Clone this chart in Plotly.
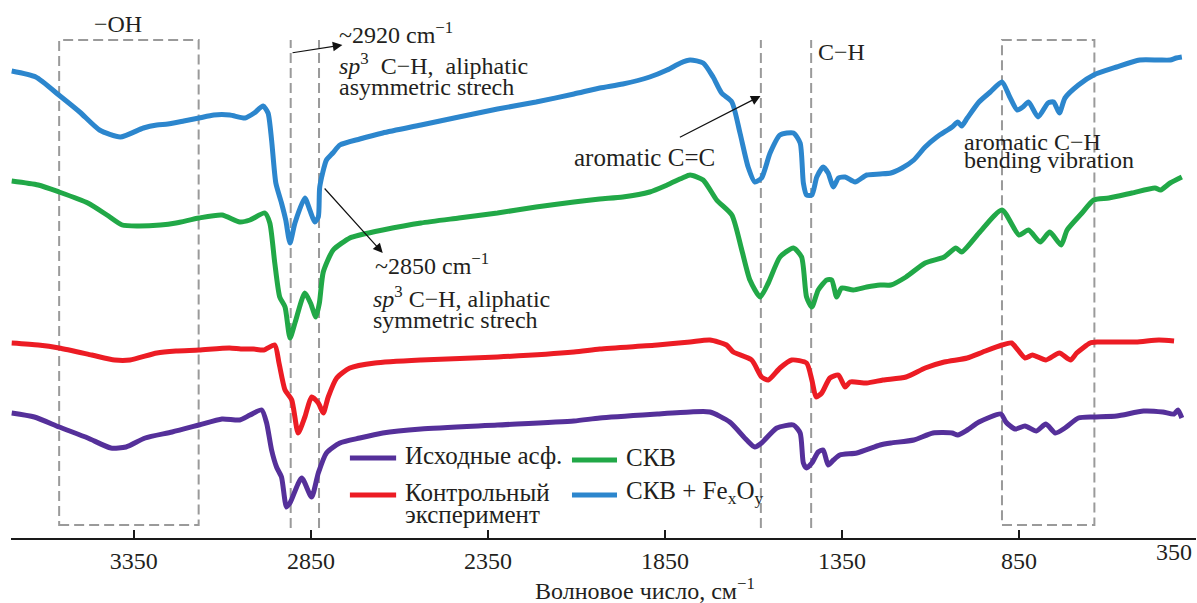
import plotly.graph_objects as go

# --- FTIR spectra (wavenumber, cm-1 ; transmittance, arbitrary units, offset per sample) ---
wn_blue = [3695, 3627, 3562, 3503, 3447, 3388, 3323, 3285, 3254, 3209, 3166, 3124, 3079, 3036,
           3010, 2985, 2971, 2961, 2949, 2933, 2921, 2909, 2895, 2867, 2853, 2839, 2829, 2825,
           2806, 2788, 2768, 2712, 2647, 2539, 2432, 2323, 2214, 2107, 2034, 1969, 1893, 1844,
           1806, 1779, 1742, 1714, 1690, 1661, 1638, 1615, 1596, 1577, 1553, 1525, 1487, 1468,
           1459, 1450, 1435, 1421, 1403, 1389, 1374, 1360, 1341, 1313, 1280, 1242, 1212, 1180,
           1147, 1115, 1082, 1039, 1023, 1012, 996, 963, 931, 898, 876, 855, 839, 823, 796, 768,
           752, 736, 720, 682, 639, 574, 509, 455, 423, 406, 390]
t_blue = [467, 461, 443, 426, 408, 401, 410, 413, 414, 417, 420, 423, 423, 420,
          425, 432, 425, 398, 355, 335, 318, 295, 315, 340, 328, 316, 321, 351,
          378, 385, 393, 399, 405, 413, 421, 429, 436, 444, 450, 454, 461, 468,
          475, 478, 475, 461, 445, 436, 405, 371, 356, 360, 385, 403, 405, 395,
          355, 343, 343, 361, 371, 365, 351, 360, 361, 356, 363, 364, 365, 370,
          378, 391, 401, 411, 416, 412, 420, 436, 446, 456, 441, 428, 431, 436, 421, 435,
          436, 425, 440, 453, 463, 471, 478, 478, 478, 480, 481]

wn_green = [3695, 3620, 3561, 3480, 3426, 3383, 3339, 3275, 3231, 3166, 3101, 3051, 3022, 2980,
            2966, 2952, 2938, 2923, 2909, 2895, 2867, 2851, 2836, 2826, 2815, 2787, 2740, 2712,
            2647, 2539, 2432, 2323, 2214, 2107, 2034, 1969, 1893, 1844, 1801, 1779, 1742, 1704,
            1661, 1633, 1610, 1581, 1558, 1525, 1487, 1464, 1450, 1435, 1417, 1393, 1379, 1365,
            1351, 1318, 1280, 1242, 1212, 1169, 1115, 1061, 1028, 1012, 963, 898, 850, 823, 790,
            763, 731, 714, 672, 639, 596, 531, 466, 450, 423, 390]
t_green = [357, 353, 346, 335, 323, 313, 312, 313, 315, 320, 323, 316, 318, 325,
           315, 275, 241, 231, 200, 215, 245, 235, 221, 235, 266, 288, 300, 303,
           308, 315, 320, 325, 331, 336, 339, 341, 346, 353, 360, 363, 358, 338,
           323, 288, 258, 241, 255, 281, 290, 281, 241, 231, 248, 258, 258, 241,
           250, 248, 251, 253, 253, 261, 275, 281, 290, 286, 305, 328, 303, 308, 296,
           306, 293, 308, 325, 338, 340, 345, 350, 348, 355, 361]

wn_red = [3695, 3620, 3561, 3469, 3404, 3361, 3285, 3231, 3166, 3080, 3048, 3013, 2983, 2952,
          2940, 2923, 2904, 2886, 2867, 2848, 2829, 2815, 2801, 2777, 2740, 2669, 2539, 2323,
          2107, 2034, 1871, 1779, 1723, 1676, 1657, 1605, 1577, 1558, 1525, 1492, 1450, 1435,
          1423, 1407, 1384, 1360, 1341, 1327, 1280, 1234, 1169, 1115, 1061, 996, 952, 898, 871,
          833, 812, 774, 736, 704, 687, 649, 628, 520, 455, 412]
t_red = [195, 193, 190, 183, 178, 178, 185, 187, 188, 190, 189, 189, 188, 193,
         175, 148, 138, 105, 121, 141, 135, 125, 141, 160, 170, 175, 178, 181,
         186, 189, 193, 196, 198, 193, 186, 178, 161, 158, 170, 178, 175, 158,
         141, 145, 160, 163, 151, 156, 155, 158, 161, 170, 176, 180, 186, 193, 195,
         180, 183, 178, 185, 178, 185, 195, 196, 196, 198, 197]

wn_purple = [3695, 3631, 3561, 3480, 3415, 3372, 3318, 3242, 3166, 3101, 3051, 3022, 2989, 2975,
             2961, 2947, 2933, 2919, 2909, 2876, 2848, 2829, 2806, 2768, 2712, 2647, 2539, 2323,
             2107, 2034, 1871, 1779, 1723, 1667, 1619, 1596, 1577, 1534, 1487, 1468, 1459, 1450,
             1435, 1417, 1403, 1389, 1374, 1356, 1308, 1242, 1212, 1147, 1093, 1039, 1023, 996,
             963, 901, 887, 861, 833, 801, 774, 747, 720, 682, 639, 574, 498, 444, 412, 401, 390]
t_purple = [125, 121, 111, 100, 90, 91, 100, 106, 113, 119, 118, 123, 128, 115,
            88, 71, 61, 31, 35, 60, 41, 65, 85, 95, 100, 105, 109, 113,
            117, 120, 124, 126, 126, 116, 98, 91, 95, 110, 113, 105, 75, 70,
            75, 86, 88, 73, 78, 83, 85, 93, 95, 98, 105, 105, 103, 108,
            116, 124, 116, 109, 112, 107, 114, 105, 110, 120, 121, 122, 127, 126, 124, 128, 120]

series_colors = {"purple": "#55309a", "red": "#ec1c24", "green": "#21a847", "blue": "#2c86cd"}

tick_vals = [3350, 2850, 2350, 1850, 1350, 850, 350]
tick_text = ["3350", "2850", "2350", "1850", "1350", "850", ""]

# marked bands (cm-1)
oh_band = (3561, 3167)
arom_bend_band = (898, 637)
band_lines = [2907, 2827, 1579, 1437]

FONT = "'Liberation Serif', 'DejaVu Serif', serif"
TXT = "#231f20"
GRID = "#9a9a9a"

fig = go.Figure()
for wn, t, c in [(wn_purple, t_purple, "purple"), (wn_red, t_red, "red"),
                 (wn_green, t_green, "green"), (wn_blue, t_blue, "blue")]:
    fig.add_trace(go.Scatter(x=wn, y=t, mode="lines", showlegend=False,
                             line=dict(color=series_colors[c], width=5, shape="spline", smoothing=0.6)))

dash = dict(color=GRID, width=2, dash="10px,5px")
for lo, hi in [oh_band, arom_bend_band]:
    fig.add_shape(type="rect", x0=lo, x1=hi, y0=13, y1=498, line=dash, layer="below")
for xv in band_lines:
    fig.add_shape(type="line", x0=xv, x1=xv, y0=10, y1=498, line=dash, layer="below")

ann = []
def text(x, y, s, xanchor="left", size=24):
    ann.append(dict(x=x, y=y, xref="x", yref="y", text=s, showarrow=False, xanchor=xanchor,
                    yanchor="middle", font=dict(family=FONT, size=size, color=TXT)))

text(3395, 514, "−OH", xanchor="center")
text(2777, 505, "~2920 cm<sup>−1</sup>")
text(2777, 474, "<i>sp</i><sup>3</sup>  C−H,  aliphatic")
text(2777, 451, "asymmetric strech")
text(2675, 274, "~2850 cm<sup>−1</sup>")
text(2680, 241, "<i>sp</i><sup>3</sup> C−H, aliphatic")
text(2680, 218, "symmetric strech")
text(1703, 381, "aromatic C=C", xanchor="right", size=25)
text(1423, 486, "C−H")
text(1012, 396, "aromatic C−H")
text(1012, 378, "bending vibration")

def arrow(x_tail, y_tail, x_head, y_head):
    ann.append(dict(x=x_head, y=y_head, ax=x_tail, ay=y_tail, xref="x", yref="y",
                    axref="x", ayref="y", text="", showarrow=True, arrowhead=2,
                    arrowsize=1.6, arrowwidth=1.2, arrowcolor="#111"))

arrow(2906, 485, 2761, 493)
arrow(2815, 351, 2647, 285)
arrow(1812, 400, 1580, 442)

# legend (two columns)
legend_items = [
    ("purple", 0.286, 0.325, 0.1487, ["Исходные асф."]),
    ("red", 0.286, 0.325, 0.0799, ["Контрольный", "эксперимент"]),
    ("green", 0.4734, 0.5114, 0.145, ["СКВ"]),
    ("blue", 0.4734, 0.5114, 0.0799, ["СКВ + Fe<sub>x</sub>O<sub>y</sub>"]),
]
for c, x0, x1, yv, lines in legend_items:
    fig.add_shape(type="line", xref="paper", yref="paper", x0=x0, x1=x1, y0=yv, y1=yv,
                  line=dict(color=series_colors[c], width=5))
    for i, s in enumerate(lines):
        ann.append(dict(x=x1 + 0.006, y=yv + 0.005 - i * 0.042, xref="paper", yref="paper", text=s,
                        showarrow=False, xanchor="left", yanchor="middle",
                        font=dict(family=FONT, size=25, color=TXT)))

# right-end tick label and axis title
ann.append(dict(x=0.9985, y=-0.026, xref="paper", yref="paper", text="350", showarrow=False,
                xanchor="right", yanchor="middle", font=dict(family=FONT, size=24, color=TXT)))
ann.append(dict(x=0.535, y=-0.094, xref="paper", yref="paper",
                text="Волновое число, см<sup>−1</sup>", showarrow=False,
                xanchor="center", yanchor="middle", font=dict(family=FONT, size=24, color=TXT)))

fig.update_layout(
    width=1197, height=603, autosize=False,
    margin=dict(l=11, r=1, t=0, b=65),
    paper_bgcolor="white", plot_bgcolor="white",
    annotations=ann,
    xaxis=dict(range=[3697, 350], showgrid=False, zeroline=False, showline=True,
               linecolor="#1a1a1a", linewidth=1.5, ticks="inside", ticklen=8, tickwidth=1.5,
               tickcolor="#1a1a1a", tickvals=tick_vals, ticktext=tick_text,
               tickfont=dict(family=FONT, size=24, color=TXT)),
    yaxis=dict(range=[0, 538], visible=False),
)

fig.write_html("out.html")
